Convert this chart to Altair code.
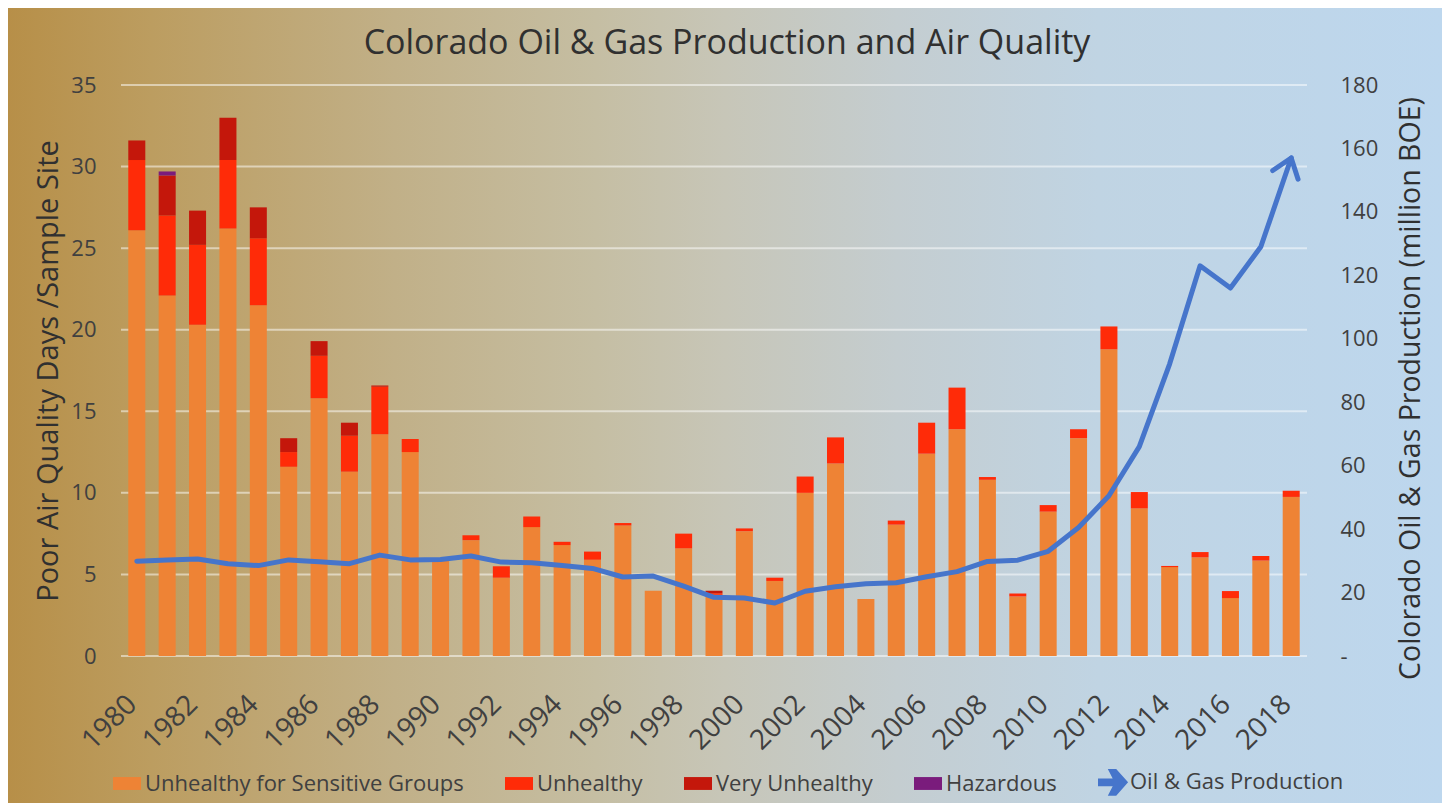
import altair as alt
import pandas as pd

# ---------------- data ----------------
years = list(range(1980, 2019))
label_years = list(range(1980, 2019, 2))
categories = ["Unhealthy for Sensitive Groups", "Unhealthy", "Very Unhealthy", "Hazardous"]
line_label = "Oil & Gas Production"

usg = [26.1, 22.1, 20.3, 26.2, 21.5, 11.6, 15.8, 11.3, 13.6, 12.5,
       5.9, 7.1, 4.8, 7.9, 6.8, 5.9, 8.0, 4.0, 6.6, 3.75,
       7.65, 4.6, 10.0, 11.8, 3.5, 8.05, 12.4, 13.9, 10.8, 3.65,
       8.85, 13.35, 18.8, 9.05, 5.45, 6.05, 3.55, 5.85, 9.75]
unhealthy = [4.3, 4.9, 4.9, 4.2, 4.1, 0.9, 2.6, 2.2, 2.9, 0.8,
             0.0, 0.3, 0.7, 0.65, 0.2, 0.5, 0.15, 0.0, 0.9, 0.1,
             0.17, 0.2, 1.0, 1.6, 0.0, 0.25, 1.9, 2.55, 0.17, 0.18,
             0.4, 0.55, 1.4, 1.0, 0.07, 0.32, 0.43, 0.28, 0.38]
very_unhealthy = [1.2, 2.45, 2.1, 2.6, 1.9, 0.85, 0.9, 0.8, 0.08, 0.0,
                  0.0, 0.0, 0.0, 0.0, 0.0, 0.0, 0.0, 0.0, 0.0, 0.15,
                  0.0, 0.0, 0.0, 0.0, 0.0, 0.0, 0.0, 0.0, 0.0, 0.0,
                  0.0, 0.0, 0.0, 0.0, 0.0, 0.0, 0.0, 0.0, 0.0]
hazardous = [0.0, 0.25, 0.0, 0.0, 0.0, 0.0, 0.0, 0.0, 0.0, 0.0,
             0.0, 0.0, 0.0, 0.0, 0.0, 0.0, 0.0, 0.0, 0.0, 0.0,
             0.0, 0.0, 0.0, 0.0, 0.0, 0.0, 0.0, 0.0, 0.0, 0.0,
             0.0, 0.0, 0.0, 0.0, 0.0, 0.0, 0.0, 0.0, 0.0]
production = [29.9, 30.3, 30.6, 29.1, 28.5, 30.3, 29.7, 29.1, 31.8, 30.3,
              30.4, 31.5, 29.6, 29.4, 28.5, 27.6, 24.9, 25.2, 22.0, 18.5,
              18.3, 16.7, 20.4, 21.8, 22.8, 23.1, 25.0, 26.6, 29.8, 30.2,
              33.0, 40.5, 50.5, 66.0, 92.1, 123.0, 116.0, 129.0, 157.0]

left_ticks = [0, 5, 10, 15, 20, 25, 30, 35]
right_ticks = [0, 20, 40, 60, 80, 100, 120, 140, 160, 180]

TITLE = "Colorado Oil & Gas Production and Air Quality"
LEFT_TITLE = "Poor Air Quality Days /Sample Site"
RIGHT_TITLE = "Colorado Oil & Gas Production (million BOE)"

# ---------------- style ----------------
FONT = "Open Sans"
TXT = "#404040"
TITLE_C = "#303030"
bar_colors = ["#EE8335", "#FF2B08", "#C4170B", "#7A1C7C"]
BLUE = "#4675CB"

W, H = 1186, 571
PAD = {"left": 113, "top": 77, "right": 135, "bottom": 147}

rows = []
series = [usg, unhealthy, very_unhealthy, hazardous]
for i, y in enumerate(years):
    for j, cat in enumerate(categories):
        rows.append({"year": y, "category": cat, "days": series[j][i], "rank": j})
bar_df = pd.DataFrame(rows)
prod_df = pd.DataFrame({"year": years, "prod": production})
grid_df = pd.DataFrame({"tick": left_ticks})

left_scale = alt.Scale(domain=[0, 35], nice=False)
right_scale = alt.Scale(domain=[0, 180], nice=False)
x_scale = alt.Scale(paddingInner=0.44, paddingOuter=0.24)

# background gradient over whole chart
bg = alt.Chart(alt.Data(values=[{"k": 1}])).mark_rect(
    color=alt.LinearGradient(
        gradient="linear",
        stops=[
            alt.GradientStop(offset=0.0, color="#b78f48"),
            alt.GradientStop(offset=0.1, color="#bc9d60"),
            alt.GradientStop(offset=0.27, color="#c1b088"),
            alt.GradientStop(offset=0.41, color="#c5bea3"),
            alt.GradientStop(offset=0.5, color="#c7c6b8"),
            alt.GradientStop(offset=0.62, color="#c4cdd0"),
            alt.GradientStop(offset=0.76, color="#c0d4e3"),
            alt.GradientStop(offset=1.0, color="#bdd7ee"),
        ],
        x1=0, x2=1, y1=0, y2=0,
    )
).encode(
    x=alt.value(-PAD["left"]), x2=alt.value(W + PAD["right"]),
    y=alt.value(-PAD["top"]), y2=alt.value(H + PAD["bottom"]),
)

title_mark = alt.Chart(alt.Data(values=[{"k": 1}])).mark_text(
    text=TITLE, font=FONT, fontSize=34, color=TITLE_C, align="center", baseline="alphabetic"
).encode(x=alt.value(727 - 121), y=alt.value(54 - 85))

RECT_LEG = "M-1,-0.46H1V0.46H-1Z"
ARROW_LEG = "M-1,-0.28L0.05,-0.28L-0.3,-0.95L0.3,-0.95L1.15,0L0.3,0.95L-0.3,0.95L0.05,0.28L-1,0.28Z"
shape_expr = f"datum.value === '{line_label}' ? '{ARROW_LEG}' : '{RECT_LEG}'"

legend = alt.Legend(
    title=None, orient="none", legendX=-8, legendY=683, direction="horizontal", columns=5,
    labelFont=FONT, labelFontSize=22, labelColor=TXT, labelLimit=1000,
    symbolSize=784, symbolStrokeWidth=0, columnPadding=41, labelOffset=4, padding=0,
    symbolType={"expr": shape_expr}, symbolOpacity=1,
)

x_axis = alt.Axis(
    values=label_years, labelAngle=315, labelAlign="right", labelBaseline="top",
    labelFont=FONT, labelFontSize=28, labelColor=TXT, labelPadding=34, labelOffset=-14,
    labelOverlap=False, ticks=False, domain=False, grid=False, title=None, zindex=2,
)
left_axis = alt.Axis(
    orient="left", values=left_ticks, labelFont=FONT, labelFontSize=22, labelColor=TXT,
    labelPadding=25, ticks=False, domain=False, grid=False,
    title=LEFT_TITLE, titleFont=FONT, titleFontSize=29, titleFontWeight="normal",
    titleColor=TITLE_C, titlePadding=7, zindex=2,
)
right_axis = alt.Axis(
    orient="right", values=right_ticks, labelExpr="datum.value == 0 ? '-' : datum.label",
    labelFont=FONT, labelFontSize=22, labelColor=TXT, labelPadding=33,
    ticks=False, domain=False, grid=False,
    title=RIGHT_TITLE, titleFont=FONT, titleFontSize=28.5, titleFontWeight="normal",
    titleColor=TITLE_C, titleAngle=270, titleBaseline="top", titlePadding=19, titleY=303, zindex=2,
)

x_enc = alt.X("year:O", scale=x_scale, axis=x_axis)

grid = alt.Chart(grid_df).mark_rule(color="white", opacity=0.5, strokeWidth=2).encode(
    y=alt.Y("tick:Q", scale=left_scale, axis=left_axis)
)

bars = alt.Chart(bar_df).mark_bar().encode(
    x=x_enc,
    y=alt.Y("days:Q", stack="zero", scale=left_scale, axis=left_axis),
    color=alt.Color("category:N",
                    scale=alt.Scale(domain=categories + [line_label], range=bar_colors + [BLUE]),
                    legend=legend),
    order=alt.Order("rank:Q", sort="ascending"),
)

line = alt.Chart(prod_df).mark_line(
    color=BLUE, strokeWidth=5, interpolate="linear", strokeCap="round", strokeJoin="round"
).encode(
    x=x_enc,
    y=alt.Y("prod:Q", scale=right_scale, axis=right_axis),
)

arrow = alt.Chart(prod_df).transform_filter(alt.datum.year == years[-1]).mark_point(
    shape="M-0.6,0.8L0,0L0.6,0.8", filled=False, size=2000, strokeWidth=5, color=BLUE,
    opacity=1, angle=19, strokeCap="round", strokeJoin="round",
).encode(
    x=x_enc,
    y=alt.Y("prod:Q", scale=right_scale, axis=right_axis),
)

left_layer = alt.layer(grid, bars)
right_layer = alt.layer(line, arrow)

chart = alt.layer(bg, title_mark, left_layer, right_layer).resolve_scale(
    y="independent"
).properties(
    width=W, height=H, autosize=alt.AutoSizeParams(type="none"), padding=PAD
).configure_view(strokeWidth=0)

chart.save("out.html", embed_options={"renderer": "svg", "actions": False})
